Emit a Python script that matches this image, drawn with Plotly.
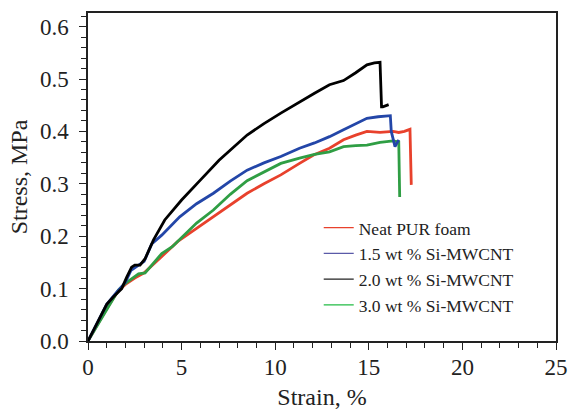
import plotly.graph_objects as go

# Neat PUR foam (red)
red_x = [0, 0.5, 1.0, 1.6, 2.0, 2.5, 3.0, 3.9, 4.8, 5.8, 6.7, 7.6, 8.5, 9.4, 10.3, 11.3, 12.05, 12.9, 13.65, 14.3, 14.9, 15.6, 16.3, 16.6, 16.9, 17.2, 17.23, 17.27]
red_y = [0, 0.03, 0.062, 0.095, 0.108, 0.12, 0.13, 0.16, 0.19, 0.215, 0.237, 0.26, 0.282, 0.30, 0.317, 0.339, 0.355, 0.368, 0.384, 0.393, 0.40, 0.398, 0.40, 0.398, 0.40, 0.404, 0.35, 0.298]

# 1.5 wt % Si-MWCNT (blue)
blue_x = [0, 0.5, 1.0, 1.5, 2.0, 2.3, 2.6, 3.0, 3.4, 3.94, 4.9, 5.8, 6.7, 7.6, 8.5, 9.4, 10.3, 11.3, 12.1, 12.9, 13.65, 14.3, 14.9, 15.5, 16.15, 16.2, 16.4, 16.6]
blue_y = [0, 0.035, 0.07, 0.092, 0.112, 0.135, 0.143, 0.152, 0.185, 0.202, 0.237, 0.262, 0.282, 0.305, 0.326, 0.34, 0.352, 0.368, 0.378, 0.39, 0.403, 0.414, 0.425, 0.428, 0.43, 0.40, 0.371, 0.384]

# 2.0 wt % Si-MWCNT (black)
black_x = [0, 0.5, 1.0, 1.35, 1.5, 1.8, 2.07, 2.33, 2.5, 2.78, 3.05, 3.5, 4.1, 5.0, 6.0, 7.0, 8.5, 9.4, 10.3, 11.3, 12.1, 12.9, 13.65, 14.3, 14.9, 15.3, 15.6, 15.68, 15.75, 16.06]
black_y = [0, 0.035, 0.07, 0.084, 0.09, 0.10, 0.122, 0.141, 0.145, 0.145, 0.157, 0.193, 0.231, 0.269, 0.307, 0.345, 0.393, 0.415, 0.435, 0.457, 0.473, 0.489, 0.497, 0.512, 0.527, 0.531, 0.532, 0.447, 0.447, 0.451]

# 3.0 wt % Si-MWCNT (green)
green_x = [0, 0.5, 1.0, 1.62, 2.0, 2.5, 2.7, 3.05, 3.3, 3.94, 4.5, 5.2, 5.8, 6.7, 7.6, 8.5, 9.4, 10.3, 11.3, 12.1, 12.9, 13.65, 14.3, 14.9, 15.6, 16.3, 16.6, 16.62, 16.65]
green_y = [0, 0.03, 0.062, 0.097, 0.11, 0.122, 0.128, 0.13, 0.14, 0.167, 0.18, 0.205, 0.225, 0.25, 0.28, 0.306, 0.323, 0.339, 0.349, 0.356, 0.361, 0.371, 0.373, 0.374, 0.379, 0.382, 0.38, 0.33, 0.275]

names = ["Neat PUR foam", "1.5 wt % Si-MWCNT", "2.0 wt % Si-MWCNT", "3.0 wt % Si-MWCNT"]
colors = ["#e8412c", "#2346a8", "#000000", "#2f9e44"]
legend_colors = ["#e8412c", "#5a5aa8", "#222222", "#22bb44"]

series = [(red_x, red_y), (blue_x, blue_y), (black_x, black_y), (green_x, green_y)]
draw_order = [0, 3, 1, 2]

fig = go.Figure()
for i in draw_order:
    xs, ys = series[i]
    fig.add_trace(go.Scatter(x=xs, y=ys, mode="lines", showlegend=False,
                             line=dict(color=colors[i], width=2.8)))
for i in range(4):
    fig.add_trace(go.Scatter(x=[None], y=[None], mode="lines", name=names[i],
                             line=dict(color=legend_colors[i], width=1.2)))

font_family = "Liberation Serif"
fig.update_layout(
    width=568, height=410,
    margin=dict(l=88, r=12, t=13, b=69),
    paper_bgcolor="white", plot_bgcolor="white",
    font=dict(family=font_family, color="#222222", size=23),
    legend=dict(x=0.493, y=0.40, xanchor="left", yanchor="top",
                font=dict(size=17.5, family=font_family, color="#222222"),
                bgcolor="rgba(0,0,0,0)", tracegroupgap=0),
    xaxis=dict(range=[0, 25], tickvals=[0, 5, 10, 15, 20, 25], automargin=False,
               ticklabelstandoff=-2,
               ticks="outside", ticklen=7, tickwidth=1, tickcolor="#222222",
               minor=dict(dtick=1, ticks="outside", ticklen=5, tickcolor="#222222"),
               showline=True, linecolor="#222222", linewidth=1.5, mirror=True,
               showgrid=False, zeroline=False,
               title=dict(text="Strain, %", font=dict(size=24), standoff=10)),
    yaxis=dict(range=[0, 0.626], tickvals=[0, 0.1, 0.2, 0.3, 0.4, 0.5, 0.6],
               tickformat=".1f", automargin=False, ticklabelstandoff=6,
               ticks="outside", ticklen=7, tickwidth=1, tickcolor="#222222",
               minor=dict(dtick=0.02, ticks="outside", ticklen=5, tickcolor="#222222"),
               showline=True, linecolor="#222222", linewidth=1.5, mirror=True,
               showgrid=False, zeroline=False,
               title=dict(text="Stress, MPa", font=dict(size=24), standoff=6)),
)

fig.write_html("out.html", config={"displayModeBar": False},
               post_script="document.body.style.margin='0';document.body.style.overflow='hidden';")
